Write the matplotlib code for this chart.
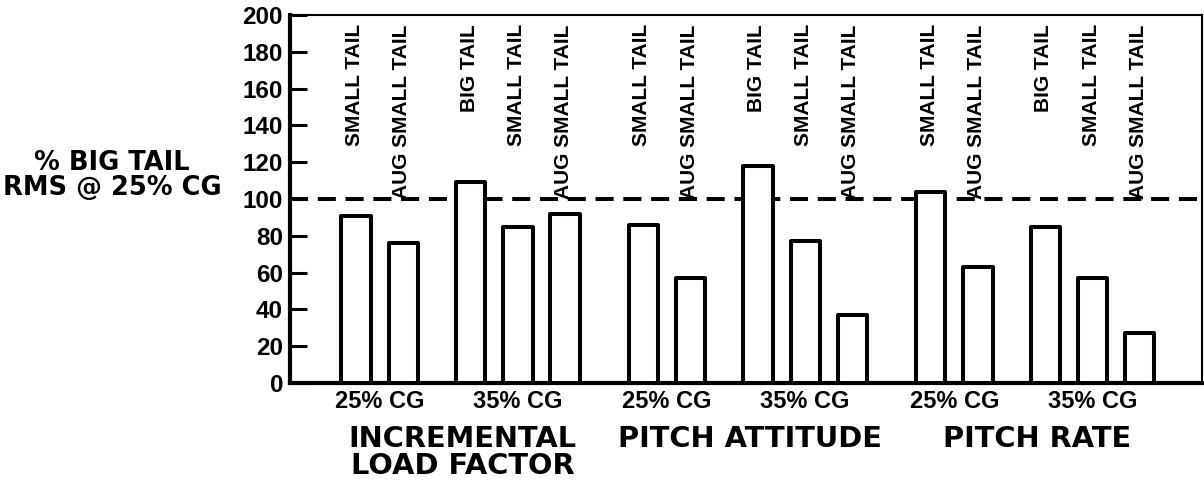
import numpy as np
import matplotlib
matplotlib.use("Agg")
import matplotlib.pyplot as plt
import matplotlib.transforms as mtransforms

plt.rcParams['font.family'] = ['Liberation Sans', 'DejaVu Sans']
plt.rcParams['font.weight'] = 'bold'
plt.rcParams['lines.scale_dashes'] = False

# ---------------- data -----------------------
groups = ["INCREMENTAL\nLOAD FACTOR", "PITCH ATTITUDE", "PITCH RATE"]
cg_labels = ["25% CG", "35% CG"]
cg_configs = [["SMALL TAIL", "AUG SMALL TAIL"],
              ["BIG TAIL", "SMALL TAIL", "AUG SMALL TAIL"]]

load_factor = [91, 76, 109, 85, 92]
pitch_attitude = [86, 57, 118, 77, 37]
pitch_rate = [104, 63, 85, 57, 27]
reference_level = 100
# ---------------------------------------------

values = [load_factor, pitch_attitude, pitch_rate]

# bar layout: one unit per bar, extra space between CG sets and between groups
sub_gap, grp_gap = 0.43, 0.66
pos, bar_names, cg_centers, cg_names, grp_centers = [], [], [], [], []
x = 0.0
for g in range(len(groups)):
    if g:
        x += grp_gap
    g_start = len(pos)
    for s, cfgs in enumerate(cg_configs):
        if s:
            x += sub_gap
        s_start = len(pos)
        for c in cfgs:
            pos.append(x)
            bar_names.append(c)
            x += 1
        cg_centers.append(np.mean(pos[s_start:]))
        cg_names.append(cg_labels[s])
    grp_centers.append(np.mean(pos[g_start:]))

heights = [v for vals in values for v in vals]

fig = plt.figure(figsize=(12.04, 4.84), dpi=100)
ax = fig.add_axes([290 / 1204, 1 - 383 / 484, 912 / 1204, 368 / 484])

ax.axhline(reference_level, color='black', lw=2.9, linestyle=(0, (13, 7)), zorder=2)
bars = ax.bar(pos, heights, width=0.62, facecolor='white', edgecolor='black',
              linewidth=2.9, zorder=3)
for b in bars:
    b.set_joinstyle('round')

for xp, name in zip(pos, bar_names):
    ax.text(xp - 0.03, 195, name, rotation=90, ha='center', va='top',
            fontsize=15, fontweight='bold', zorder=4)

ax.set_xlim(-1.40, pos[-1] + 1.32)
ax.set_ylim(0, 200)
ax.set_yticks(np.arange(0, 201, 20))
ax.tick_params(axis='y', direction='in', length=12, width=2.2, labelsize=17.5, pad=5)
ax.set_xticks(cg_centers)
ax.set_xticklabels(cg_names, fontsize=17, fontweight='bold')
ax.tick_params(axis='x', length=0, pad=5)

for side in ['left', 'bottom']:
    ax.spines[side].set_linewidth(3)
for side in ['top', 'right']:
    ax.spines[side].set_linewidth(1.5)

trans = mtransforms.blended_transform_factory(ax.transData, ax.transAxes)
for xc, name in zip(grp_centers, groups):
    ax.text(xc, -0.115, name, transform=trans, ha='center', va='top',
            fontsize=20.8, fontweight='bold', linespacing=0.95,
            family=['DejaVu Sans'])

fig.text(112 / 1204, 1 - 176 / 484, "% BIG TAIL\nRMS @ 25% CG", ha='center',
         va='center', fontsize=18.5, fontweight='bold', linespacing=0.95,
         family=['DejaVu Sans'])

fig.savefig("out.png", dpi=100, facecolor='white')
